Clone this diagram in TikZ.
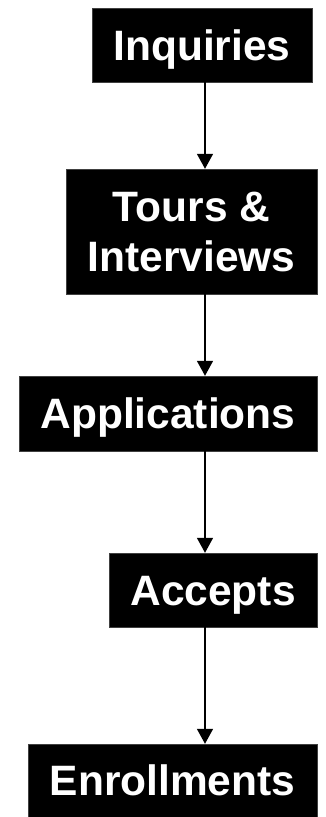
\documentclass[tikz,border=0pt]{standalone}
\usepackage{fontspec}
\setmainfont{Liberation Sans}
\usetikzlibrary{arrows.meta}

\begin{document}
\begin{tikzpicture}[x=1pt,y=-1pt,
    stage/.style={fill=black,draw=black!75,text=white,inner sep=0pt,align=center,
      text height=30pt,text depth=0pt,font=\bfseries\fontsize{42.5}{50}\selectfont},
    flow/.style={-{Triangle[length=15pt,width=16pt]},line width=1.5pt}]
      \useasboundingbox (0,0) rectangle (325,817);
      % funnel stages
      \node[stage,minimum width=220pt,minimum height=74pt] (inq) at (202,45) {Inquiries};
      \node[stage,text height=80pt,minimum width=251pt,minimum height=125pt] (tours) at (191.5,231.5) {Tours \&\\Interviews};
      \node[stage,minimum width=298pt,minimum height=75pt] (apps) at (168,413.5) {Applications};
      \node[stage,minimum width=208pt,minimum height=74pt] (acc) at (213,590) {Accepts};
      \node[stage,minimum width=289pt,minimum height=73pt] (enr) at (172.5,780.5) {Enrollments};
      \coordinate (spine) at (205,0);
      \draw[flow] (inq.south -| spine) -- (tours.north -| spine);
      \draw[flow] (tours.south -| spine) -- (apps.north -| spine);
      \draw[flow] (apps.south -| spine) -- (acc.north -| spine);
      \draw[flow] (acc.south -| spine) -- (enr.north -| spine);
   \end{tikzpicture}
\end{document}
